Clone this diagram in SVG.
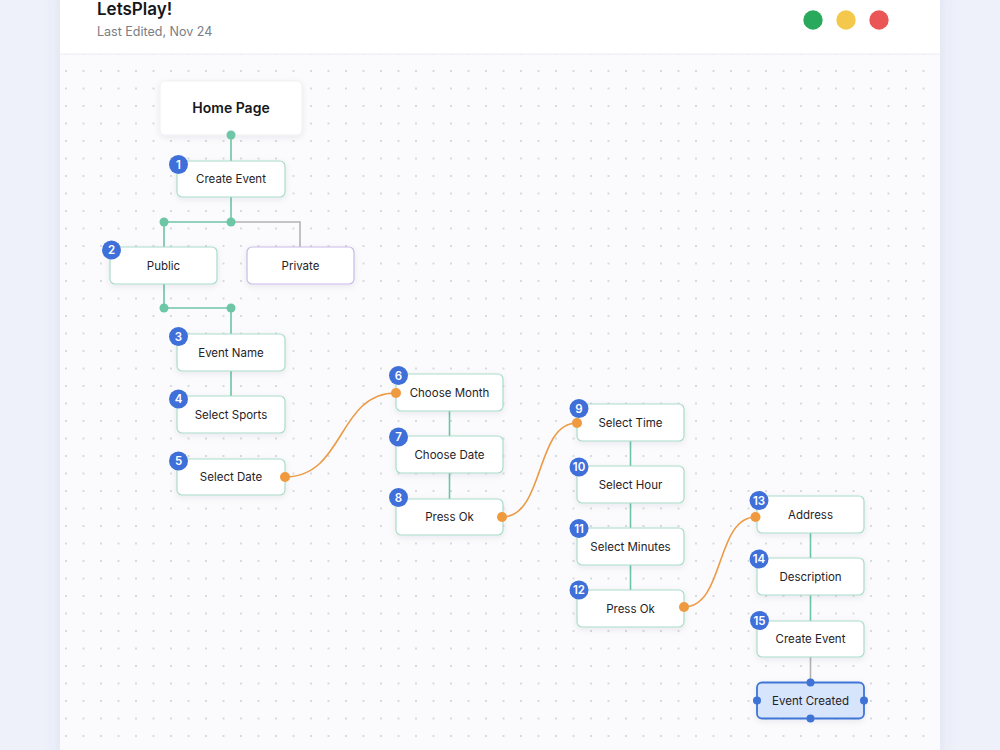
<svg xmlns="http://www.w3.org/2000/svg" width="1000" height="750" viewBox="0 0 1000 750">
<defs>
<pattern id="dots" x="57.25" y="62.25" width="17.5" height="17.5" patternUnits="userSpaceOnUse">
<circle cx="8.75" cy="8.75" r="0.9" fill="#c6cad3"/>
</pattern>
<filter id="sh" x="-20%" y="-30%" width="140%" height="170%">
<feDropShadow dx="0" dy="2" stdDeviation="3" flood-color="#1b2a4a" flood-opacity="0.08"/>
</filter>
<filter id="psh" x="-10%" y="-10%" width="120%" height="120%">
<feDropShadow dx="0" dy="0" stdDeviation="8" flood-color="#5a6a9a" flood-opacity="0.12"/>
</filter>
<style>
.node{fill:#ffffff;stroke:#a9dcc9;stroke-width:1.2;filter:url(#sh)}
.priv{fill:#ffffff;stroke:#c9b9e9;stroke-width:1.2;filter:url(#sh)}
.lbl{font-family:Inter,"Liberation Sans",sans-serif;font-size:11.5px;fill:#1f2328;text-anchor:middle}
.badge{fill:#3f6fd8}
.num{font-family:Inter,"Liberation Sans",sans-serif;font-size:11.5px;font-weight:600;fill:#ffffff;text-anchor:middle}
.g{stroke:#6cc5a4;stroke-width:1.6;fill:none}
.gr{stroke:#b3b3b3;stroke-width:1.6;fill:none}
.o{stroke:#ec9a45;stroke-width:1.6;fill:none}
.gd{fill:#6dc6a5}
.od{fill:#ef9a3e}
.bd{fill:#3f74d6}
</style>
</defs>
<rect x="0" y="0" width="1000" height="750" fill="#eef1fa"/>
<g id="panel">
<rect x="60" y="-10" width="880" height="770" fill="#ffffff" filter="url(#psh)"/>
<rect x="60" y="54" width="880" height="696" fill="#fbfbfd"/>
<rect x="60" y="54" width="880" height="696" fill="url(#dots)"/>
<line x1="60" y1="54" x2="940" y2="54" stroke="#ececf1" stroke-width="1"/>
<text x="97" y="15" font-family="Inter,'Liberation Sans',sans-serif" font-size="17" font-weight="600" fill="#15171a">LetsPlay!</text>
<text x="97" y="36" font-family="Inter,'Liberation Sans',sans-serif" font-size="12.5" fill="#7a7d85">Last Edited, Nov 24</text>
<circle cx="813" cy="20" r="9.7" fill="#28a95b"/>
<circle cx="846" cy="20" r="9.7" fill="#f4c84a"/>
<circle cx="879" cy="20" r="9.7" fill="#ea5656"/>
</g>
<g id="home"><rect x="160" y="81" width="142" height="54" rx="5" fill="#ffffff" stroke="#efeff2" stroke-width="1" filter="url(#sh)"/><text x="231" y="113" font-family="Inter,'Liberation Sans',sans-serif" font-size="14" font-weight="600" fill="#15171a" text-anchor="middle">Home Page</text></g>
<g id="connectors">
<line class="g" x1="231" y1="135" x2="231" y2="161"/>
<line class="g" x1="231" y1="197" x2="231" y2="222"/>
<line class="g" x1="164" y1="222" x2="231" y2="222"/>
<line class="g" x1="164" y1="222" x2="164" y2="247"/>
<polyline class="gr" points="231,222 300,222 300,247"/>
<line class="g" x1="164" y1="284" x2="164" y2="308"/>
<line class="g" x1="164" y1="308" x2="231" y2="308"/>
<line class="g" x1="231" y1="308" x2="231" y2="334"/>
<line class="g" x1="231" y1="371" x2="231" y2="396"/>
<line class="g" x1="449.5" y1="411" x2="449.5" y2="436"/>
<line class="g" x1="449.5" y1="473" x2="449.5" y2="499"/>
<line class="g" x1="630.5" y1="441" x2="630.5" y2="466"/>
<line class="g" x1="630.5" y1="503" x2="630.5" y2="528"/>
<line class="g" x1="630.5" y1="565" x2="630.5" y2="590"/>
<line class="g" x1="810.5" y1="533" x2="810.5" y2="558"/>
<line class="g" x1="810.5" y1="595" x2="810.5" y2="621"/>
<line class="gr" x1="810.5" y1="657" x2="810.5" y2="682"/>
<path class="o" d="M285,477 C345,477 337,393 396,393"/>
<path class="o" d="M502,517 C545,517 535,423 577,423"/>
<path class="o" d="M684,607 C725,607 715,517 756,517"/>
<circle class="gd" cx="231" cy="135" r="4.5"/>
<circle class="gd" cx="164" cy="222" r="4.5"/>
<circle class="gd" cx="231" cy="222" r="4.5"/>
<circle class="gd" cx="164" cy="308" r="4.5"/>
<circle class="gd" cx="231" cy="308" r="4.5"/>
</g>
<g id="n1"><rect class="node" x="177" y="161" width="108" height="36" rx="5"/><text class="lbl" x="231" y="183">Create Event</text><circle class="badge" cx="178.5" cy="164.5" r="9.5"/><text class="num" x="178.5" y="168.5">1</text></g>
<g id="n2"><rect class="node" x="110" y="247" width="107" height="37" rx="5"/><text class="lbl" x="163.5" y="270">Public</text><circle class="badge" cx="111.5" cy="250" r="9.5"/><text class="num" x="111.5" y="254">2</text></g>
<g id="private"><rect class="priv" x="247" y="247" width="107" height="37" rx="5"/><text class="lbl" x="300.5" y="270">Private</text></g>
<g id="n3"><rect class="node" x="177" y="334" width="108" height="37" rx="5"/><text class="lbl" x="231" y="357">Event Name</text><circle class="badge" cx="178.5" cy="336.5" r="9.5"/><text class="num" x="178.5" y="340.5">3</text></g>
<g id="n4"><rect class="node" x="177" y="396" width="108" height="37" rx="5"/><text class="lbl" x="231" y="419">Select Sports</text><circle class="badge" cx="178.5" cy="399" r="9.5"/><text class="num" x="178.5" y="403">4</text></g>
<g id="n5"><rect class="node" x="177" y="459" width="108" height="36" rx="5"/><text class="lbl" x="231" y="481">Select Date</text><circle class="badge" cx="178.5" cy="461" r="9.5"/><text class="num" x="178.5" y="465">5</text><circle class="od" cx="285" cy="477" r="5"/></g>
<g id="n6"><rect class="node" x="396" y="374" width="107" height="37" rx="5"/><text class="lbl" x="449.5" y="397">Choose Month</text><circle class="badge" cx="398.5" cy="375.5" r="9.5"/><text class="num" x="398.5" y="379.5">6</text><circle class="od" cx="396" cy="393" r="5"/></g>
<g id="n7"><rect class="node" x="396" y="436" width="107" height="37" rx="5"/><text class="lbl" x="449.5" y="459">Choose Date</text><circle class="badge" cx="398.5" cy="437" r="9.5"/><text class="num" x="398.5" y="441">7</text></g>
<g id="n8"><rect class="node" x="396" y="499" width="107" height="36" rx="5"/><text class="lbl" x="449.5" y="521">Press Ok</text><circle class="badge" cx="398.5" cy="497.5" r="9.5"/><text class="num" x="398.5" y="501.5">8</text><circle class="od" cx="502" cy="517" r="5"/></g>
<g id="n9"><rect class="node" x="577" y="404" width="107" height="37" rx="5"/><text class="lbl" x="630.5" y="427">Select Time</text><circle class="badge" cx="579" cy="408.5" r="9.5"/><text class="num" x="579" y="412.5">9</text><circle class="od" cx="577" cy="423" r="5"/></g>
<g id="n10"><rect class="node" x="577" y="466" width="107" height="37" rx="5"/><text class="lbl" x="630.5" y="489">Select Hour</text><circle class="badge" cx="579" cy="467" r="9.5"/><text class="num" x="579" y="471">10</text></g>
<g id="n11"><rect class="node" x="577" y="528" width="107" height="37" rx="5"/><text class="lbl" x="630.5" y="551">Select Minutes</text><circle class="badge" cx="579" cy="528.5" r="9.5"/><text class="num" x="579" y="532.5">11</text></g>
<g id="n12"><rect class="node" x="577" y="590" width="107" height="37" rx="5"/><text class="lbl" x="630.5" y="613">Press Ok</text><circle class="badge" cx="579" cy="590" r="9.5"/><text class="num" x="579" y="594">12</text><circle class="od" cx="684" cy="607" r="5"/></g>
<g id="n13"><rect class="node" x="757" y="496" width="107" height="37" rx="5"/><text class="lbl" x="810.5" y="519">Address</text><circle class="badge" cx="759" cy="500.5" r="9.5"/><text class="num" x="759" y="504.5">13</text><circle class="od" cx="755.5" cy="517" r="5"/></g>
<g id="n14"><rect class="node" x="757" y="558" width="107" height="37" rx="5"/><text class="lbl" x="810.5" y="581">Description</text><circle class="badge" cx="759" cy="559" r="9.5"/><text class="num" x="759" y="563">14</text></g>
<g id="n15"><rect class="node" x="757" y="621" width="107" height="36" rx="5"/><text class="lbl" x="810.5" y="643">Create Event</text><circle class="badge" cx="759.5" cy="620.5" r="9.5"/><text class="num" x="759.5" y="624.5">15</text></g>
<g id="created"><rect x="757" y="682.5" width="107" height="36" rx="5" fill="#d7e5fc" stroke="#3f74d6" stroke-width="1.8" filter="url(#sh)"/><text class="lbl" x="810.5" y="704.5">Event Created</text><circle class="bd" cx="810.5" cy="682.5" r="4"/><circle class="bd" cx="810.5" cy="718.5" r="4"/><circle class="bd" cx="757" cy="700.5" r="4"/><circle class="bd" cx="864" cy="700.5" r="4"/></g>
</svg>
